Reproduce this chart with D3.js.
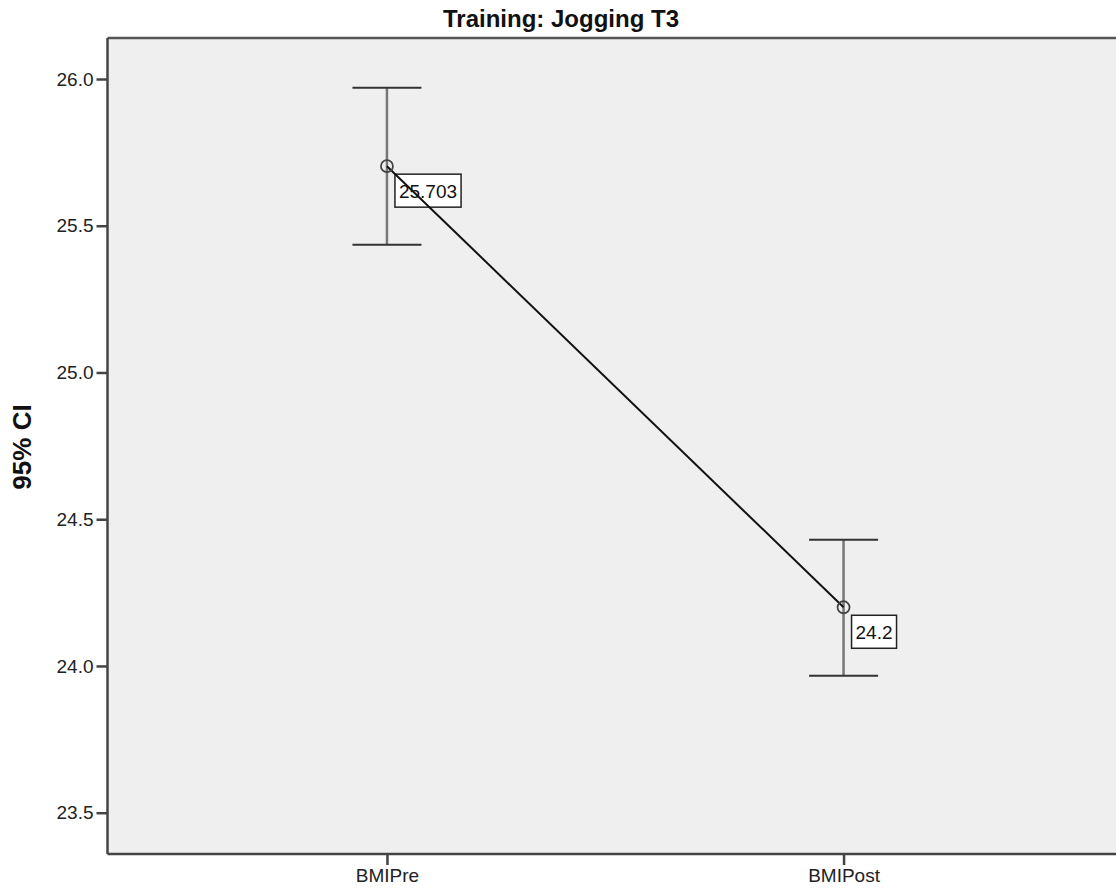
<!DOCTYPE html>
<html lang="en">
<head>
    <meta charset="UTF-8">
    <title>Training: Jogging T3</title>
    <style>
        body { margin: 0; background: #fff; }
        text { font-family: "Liberation Sans", Arial, sans-serif; }
    </style>
    <script src="https://d3js.org/d3.v7.min.js"></script>
</head>
<body>
<div id="chart"></div>
<script>
    // data
    var categories = ["BMIPre", "BMIPost"];
    var means = [25.703, 24.2];
    var ciLower = [25.435, 23.967];
    var ciUpper = [25.970, 24.430];
    var meanLabels = ["25.703", "24.2"];
    var yTicks = [23.5, 24.0, 24.5, 25.0, 25.5, 26.0];

    var W = 1116, H = 892;
    var plot = {left: 107.5, top: 38, right: 1123, bottom: 854};

    var svg = d3.select("#chart").append("svg")
        .attr("width", W)
        .attr("height", H);

    var x = d3.scalePoint().domain(categories).range([plot.left, plot.right]).padding(0.612);
    var y = d3.scaleLinear().domain([23.3593, 26.1397]).range([plot.bottom, plot.top]);

    var data = categories.map(function (c, i) {
        return {cat: c, mean: means[i], lo: ciLower[i], hi: ciUpper[i], label: meanLabels[i]};
    });

    // plot background + frame
    svg.append("rect")
        .attr("x", plot.left).attr("y", plot.top)
        .attr("width", plot.right - plot.left).attr("height", plot.bottom - plot.top)
        .attr("fill", "#efefef");
    svg.append("line")
        .attr("x1", plot.left).attr("x2", plot.right)
        .attr("y1", plot.top).attr("y2", plot.top)
        .attr("stroke", "#555").attr("stroke-width", 2.5);

    // axes
    var yAxis = svg.append("g")
        .attr("transform", "translate(" + plot.left + ",0)")
        .call(d3.axisLeft(y).tickValues(yTicks).tickFormat(d3.format(".1f")).tickSize(11).tickPadding(3));
    var xAxis = svg.append("g")
        .attr("transform", "translate(0," + plot.bottom + ")")
        .call(d3.axisBottom(x).tickSize(11).tickPadding(4));

    [yAxis, xAxis].forEach(function (g) {
        g.select(".domain").remove();
        g.selectAll(".tick line").attr("stroke", "#444").attr("stroke-width", 2.5);
        g.selectAll(".tick text")
            .attr("fill", "#222")
            .style("font-family", "'Liberation Sans', Arial, sans-serif")
            .style("font-size", "19px");
    });

    svg.append("line")
        .attr("x1", plot.left).attr("x2", plot.left)
        .attr("y1", plot.top).attr("y2", plot.bottom)
        .attr("stroke", "#444").attr("stroke-width", 2.5);
    svg.append("line")
        .attr("x1", plot.left).attr("x2", plot.right)
        .attr("y1", plot.bottom).attr("y2", plot.bottom)
        .attr("stroke", "#444").attr("stroke-width", 2.5);

    // error bars
    var capHalf = 34.5;
    var bars = svg.append("g").selectAll("g").data(data).enter().append("g");
    bars.append("line")
        .attr("x1", function (d) { return x(d.cat); })
        .attr("x2", function (d) { return x(d.cat); })
        .attr("y1", function (d) { return y(d.lo); })
        .attr("y2", function (d) { return y(d.hi); })
        .attr("stroke", "#777").attr("stroke-width", 2.5);
    bars.append("line")
        .attr("x1", function (d) { return x(d.cat) - capHalf; })
        .attr("x2", function (d) { return x(d.cat) + capHalf; })
        .attr("y1", function (d) { return y(d.hi); })
        .attr("y2", function (d) { return y(d.hi); })
        .attr("stroke", "#333").attr("stroke-width", 2);
    bars.append("line")
        .attr("x1", function (d) { return x(d.cat) - capHalf; })
        .attr("x2", function (d) { return x(d.cat) + capHalf; })
        .attr("y1", function (d) { return y(d.lo); })
        .attr("y2", function (d) { return y(d.lo); })
        .attr("stroke", "#333").attr("stroke-width", 2);

    // value labels (drawn under the mean line, as in the original)
    var labels = svg.append("g").selectAll("g").data(data).enter().append("g")
        .attr("transform", function (d) { return "translate(" + (x(d.cat) + 8) + "," + (y(d.mean) + 8) + ")"; });
    labels.append("rect").attr("class", "box")
        .attr("fill", "#fff").attr("stroke", "#222").attr("stroke-width", 1.5);
    labels.append("text")
        .attr("x", 4).attr("y", 24)
        .style("font-size", "19px")
        .attr("fill", "#111")
        .text(function (d) { return d.label; });
    labels.each(function () {
        var g = d3.select(this);
        var w = g.select("text").node().getComputedTextLength();
        g.select("rect").attr("width", w + 8).attr("height", 33);
    });

    // mean line
    var line = d3.line()
        .x(function (d) { return x(d.cat); })
        .y(function (d) { return y(d.mean); });
    svg.append("path")
        .datum(data)
        .attr("d", line)
        .attr("fill", "none")
        .attr("stroke", "#111")
        .attr("stroke-width", 2);

    // mean markers
    svg.append("g").selectAll("circle").data(data).enter()
        .append("circle")
        .attr("cx", function (d) { return x(d.cat); })
        .attr("cy", function (d) { return y(d.mean); })
        .attr("r", 6)
        .attr("fill", "none")
        .attr("stroke", "#444")
        .attr("stroke-width", 1.8);

    // titles
    svg.append("text")
        .attr("x", 561).attr("y", 27)
        .attr("text-anchor", "middle")
        .style("font-size", "24px").style("font-weight", "bold")
        .attr("fill", "#111")
        .text("Training: Jogging T3");

    svg.append("text")
        .attr("transform", "translate(31,447) rotate(-90)")
        .attr("text-anchor", "middle")
        .style("font-size", "26px").style("font-weight", "bold")
        .attr("fill", "#111")
        .text("95% CI");
</script>
</body>
</html>
